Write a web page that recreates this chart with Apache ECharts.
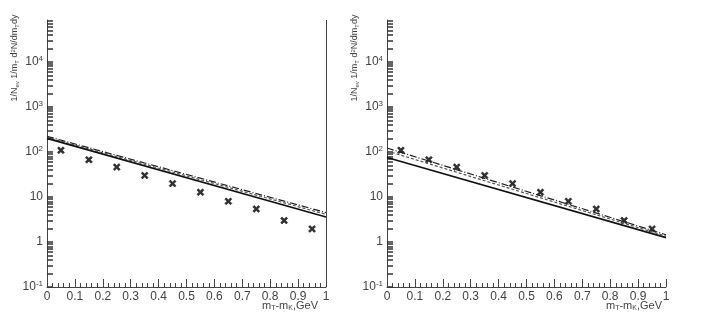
<!DOCTYPE html>
<html>
<head>
<meta charset="utf-8">
<script src="https://cdn.jsdelivr.net/npm/echarts@6/dist/echarts.min.js"></script>
<style>
  html, body { margin: 0; padding: 0; background: #fff; }
  #main { width: 702px; height: 328px; }
</style>
</head>
<body>
<div id="main"></div>
<script>
// data
var xPts = [0.05, 0.15, 0.25, 0.35, 0.45, 0.55, 0.65, 0.75, 0.85, 0.95];
var yPts = [109, 67, 46, 30, 19.8, 12.7, 8.0, 5.4, 3.0, 1.95];

var lineX = [0, 1];
// left panel
var leftSolid = [200, 3.6];
var leftDash = [210, 4.1];
var leftDashDot = [222, 4.5];
// right panel
var rightSolid = [75, 1.25];
var rightDash = [105, 1.35];
var rightDashDot = [122, 1.45];

var decadeLabels = [0.1, 1, 10, 100, 1000, 10000];
var yTicks = [];
decadeLabels.forEach(function (d) {
    for (var k = 1; k <= 9; k++) { if (d * k < 85000) yTicks.push(+(d * k).toPrecision(3)); }
});

var txt = '#444';
var fontFam = '"Liberation Sans", Arial, sans-serif';

function pairs(xs, ys) {
    var out = [];
    for (var i = 0; i < xs.length; i++) out.push([xs[i], ys[i]]);
    return out;
}

function fmtY(v) {
    var e = Math.log10(v);
    if (Math.abs(e - Math.round(e)) > 1e-6 || v > 50000) return '';
    e = Math.round(e);
    if (e === 0) return '1';
    if (e === 1) return '10';
    return '10{sup|' + e + '}';
}

var grids = [
    { left: 47, right: 376, top: 20, bottom: 41 },
    { left: 387, right: 36, top: 20, bottom: 41 }
];

var xAxes = [], yAxes = [], series = [];
grids.forEach(function (g, gi) {
    xAxes.push({
        type: 'value', gridIndex: gi, min: 0, max: 1, interval: 0.1,
        axisLine: { show: true, lineStyle: { color: txt, width: 1 } },
        axisTick: { show: true, inside: true, length: 8, lineStyle: { color: txt } },
        minorTick: { show: true, splitNumber: 5, length: 4, lineStyle: { color: txt } },
        splitLine: { show: false },
        axisLabel: {
            color: txt, fontSize: 12, fontFamily: fontFam, margin: 4,
            formatter: function (v) { return String(+v.toFixed(1)); }
        }
    });
    yAxes.push({
        type: 'log', gridIndex: gi, min: 0.1, max: 85000,
        axisLine: { show: true, lineStyle: { color: txt, width: 1 } },
        axisTick: { show: true, inside: true, length: 6, customValues: yTicks, lineStyle: { color: '#333', width: 1.5 } },
        splitLine: { show: false },
        axisLabel: {
            color: txt, fontSize: 12, fontFamily: fontFam, margin: 4,
            formatter: fmtY,
            rich: { sup: { fontSize: 8, verticalAlign: 'top', padding: [0, 0, 6, 0], color: txt } }
        }
    });
});

var panels = [
    { idx: 0, solid: leftSolid, dash: leftDash, dd: leftDashDot, frame: true },
    { idx: 1, solid: rightSolid, dash: rightDash, dd: rightDashDot, frame: false }
];
panels.forEach(function (p) {
    series.push({
        type: 'line', xAxisIndex: p.idx, yAxisIndex: p.idx, data: pairs(lineX, p.dd),
        symbol: 'none', silent: true,
        lineStyle: { color: '#222', width: 1.2, type: [7, 2, 1, 2] }
    });
    series.push({
        type: 'line', xAxisIndex: p.idx, yAxisIndex: p.idx, data: pairs(lineX, p.dash),
        symbol: 'none', silent: true,
        lineStyle: { color: '#555', width: 1.2, type: [3, 2] }
    });
    var solid = {
        type: 'line', xAxisIndex: p.idx, yAxisIndex: p.idx, data: pairs(lineX, p.solid),
        symbol: 'none', silent: true,
        lineStyle: { color: '#111', width: 1.6 }
    };
    if (p.frame) {
        // right border of the left panel
        solid.markLine = {
            silent: true, symbol: 'none', label: { show: false },
            lineStyle: { color: txt, width: 1, type: 'solid' },
            data: [{ xAxis: 1 }]
        };
    }
    series.push(solid);
    series.push({
        type: 'scatter', xAxisIndex: p.idx, yAxisIndex: p.idx, data: pairs(xPts, yPts),
        symbol: 'path://M0,2L2,0L5,3L8,0L10,2L7,5L10,8L8,10L5,7L2,10L0,8L3,5Z',
        symbolSize: 7, itemStyle: { color: '#000', borderColor: '#000', borderWidth: 0.6 }, silent: true
    });
});

var titleRich = {
    sub: { fontSize: 6, verticalAlign: 'bottom', padding: [4, 0, 0, 0], fill: txt, fontFamily: fontFam },
    sup: { fontSize: 6, verticalAlign: 'top', padding: [0, 0, 4, 0], fill: txt, fontFamily: fontFam }
};
var xRich = {
    sub: { fontSize: 7, verticalAlign: 'bottom', padding: [5, 0, 0, 0], fill: txt, fontFamily: fontFam }
};
function yTitle(x) {
    return {
        type: 'text', x: x, y: 58, rotation: Math.PI / 2,
        style: {
            text: '1/N{sub|ev} 1/m{sub|T} d{sup|2}N/dm{sub|T}dy',
            fill: txt, fontSize: 9, fontFamily: fontFam, align: 'center', verticalAlign: 'middle',
            rich: titleRich
        }
    };
}
function xTitle(x) {
    return {
        type: 'text', x: x, y: 306,
        style: {
            text: 'm{sub|T}-m{sub|K},GeV',
            fill: txt, fontSize: 11, fontFamily: fontFam, align: 'right', verticalAlign: 'middle',
            rich: xRich
        }
    };
}

var chart = echarts.init(document.getElementById('main'));
chart.setOption({
    animation: false,
    backgroundColor: '#fff',
    grid: grids,
    xAxis: xAxes,
    yAxis: yAxes,
    series: series,
    graphic: [yTitle(15), yTitle(355), xTitle(318), xTitle(662)]
});
</script>
</body>
</html>
